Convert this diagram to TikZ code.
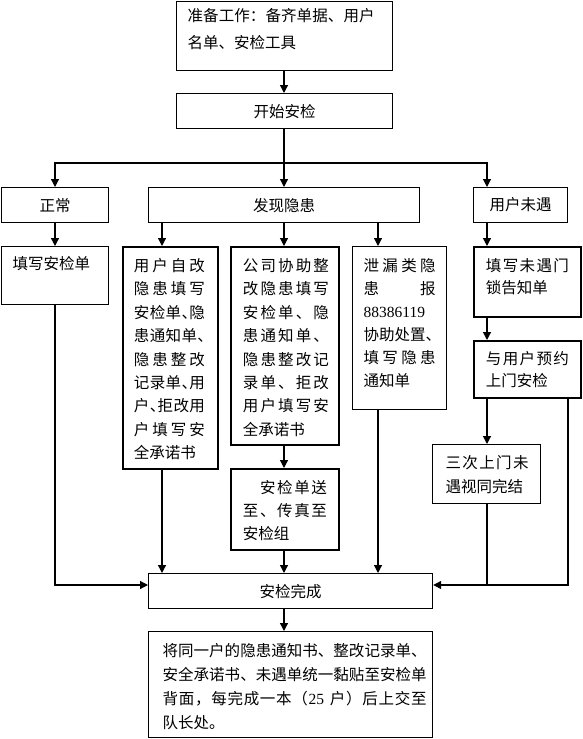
\documentclass[tikz,border=0pt]{standalone}
\usepackage{fontspec}
\setmainfont{Noto Sans CJK SC}
\newfontfamily\lat{Liberation Serif}
\usetikzlibrary{arrows.meta}
\makeatletter
\def\sprA#1{#1\sprB}
\def\sprB#1{\ifx#1\relax\else\hfil#1\expandafter\sprB\fi}
\makeatother
\newcommand\jl[2]{\makebox[#1pt][s]{\sprA#2\relax}}
\newcommand\hz{\makebox[7.5pt][l]{、}}
\newcommand\bx[6]{\parbox[c][#2pt][t]{#1pt}{\fontsize{15.5}{#5}\selectfont\vspace*{#3pt}\hspace*{#4pt}\begin{tabular}[t]{@{}l@{}}#6\end{tabular}}}
\begin{document}
\begin{tikzpicture}[x=1pt,y=-1pt,
  bx/.style={draw, line width=1.2pt, inner sep=0pt, anchor=north west},
  bxk/.style={bx, line width=1.9pt},
  arr/.style={line width=1.2pt, -{Triangle[length=8pt,width=8pt]}},
  ln/.style={line width=1.2pt},
  every node/.style={font=\fontsize{15.5}{23}\selectfont}]
\useasboundingbox (0,0) rectangle (582,739);
% boxes
\node[bx] (top) at (176,1) {\bx{216}{69}{0.6}{11}{27}{\jl{187}{准备工作：备齐单据、用户}\\名单、安检工具}};
\node[bx, minimum width=216pt, minimum height=35pt] (start) at (176,93) {开始安检};
\node[bx, minimum width=107pt, minimum height=35pt] (normal) at (1,187) {正常};
\node[bx, minimum width=271pt, minimum height=35pt] (found) at (148,187) {发现隐患};
\node[bx, minimum width=94pt, minimum height=35pt] (absent) at (473,187) {用户未遇};
\node[bx] (fill) at (1,246) {\bx{107}{58}{6.4}{11}{23}{填写安检单}};
\node[bxk] (self) at (122,246) {\bx{95}{222}{8.1}{11}{23.4}{\jl{71}{用户自改}\\\jl{71}{隐患填写}\\\jl{71}{安检单\hz 隐}\\\jl{71}{患通知单\hz}\\\jl{71}{隐患整改}\\\jl{71}{记录单\hz 用}\\\jl{71}{户\hz 拒改用}\\\jl{71}{户填写安}\\全承诺书}};
\node[bxk] (comp) at (230,246) {\bx{108}{198}{8.1}{12}{23.4}{\jl{86}{公司协助整}\\\jl{86}{改隐患填写}\\\jl{86}{安检单、隐}\\\jl{86}{患通知单、}\\\jl{86}{隐患整改记}\\\jl{86}{录单、拒改}\\\jl{86}{用户填写安}\\全承诺书}};
\node[bx] (leak) at (352,246) {\bx{94}{163}{8.4}{11}{23}{\jl{72}{泄漏类隐}\\\jl{72}{患报}\\{\lat 88386119}\\协助处置\hz\\\jl{72}{填写隐患}\\通知单}};
\node[bxk] (note) at (473,246) {\bx{107}{70}{9.1}{12}{22}{\jl{83}{填写未遇门}\\锁告知单}};
\node[bxk] (appt) at (473,340) {\bx{107}{57}{8.1}{12}{22}{\jl{83}{与用户预约}\\上门安检}};
\node[bx] (third) at (432,444) {\bx{108}{59}{7.55}{13}{23.5}{\jl{83}{三次上门未}\\遇视同完结}};
\node[bxk] (send) at (230,468) {\bx{108}{81}{8.4}{12}{23}{\jl{84}{\quad 安检单送}\\\jl{84}{至、传真至}\\安检组}};
\node[bx, minimum width=284pt, minimum height=35pt] (done) at (148,573) {安检完成};
\node[bx] (final) at (148,631) {\bx{284}{106}{7.7}{14}{24}{\jl{264}{将同一户的隐患通知书、整改记录单、}\\\jl{264}{安全承诺书、未遇单统一黏贴至安检单}\\\makebox[264pt][s]{背\hfil 面\hfil ，\hfil 每\hfil 完\hfil 成\hfil 一\hfil 本\hfil （\hfil{\lat 25}\hspace{5pt}\hfil 户\hfil ）\hfil 后\hfil 上\hfil 交\hfil 至}\\队长处。}};
% column / row guides
\coordinate (cA) at (55,0);
\coordinate (cB) at (162,0);
\coordinate (cC) at (284,0);
\coordinate (cD) at (378,0);
\coordinate (cR) at (487,0);
\coordinate (cS) at (568,0);
\coordinate (rS) at (0,163);
\coordinate (rH) at (0,585);
% connectors
\draw[arr] (cC |- top.south) -- (cC |- start.north);
\draw[ln] (cC |- start.south) -- (cC |- rS);
\draw[arr] (cC |- rS) -| (cA |- normal.north);
\draw[arr] (cC |- rS) -- (cC |- found.north);
\draw[arr] (cC |- rS) -| (cR |- absent.north);
\draw[arr] (cA |- normal.south) -- (cA |- fill.north);
\draw[arr] (cB |- found.south) -- (cB |- self.north);
\draw[arr] (cC |- found.south) -- (cC |- comp.north);
\draw[arr] (cD |- found.south) -- (cD |- leak.north);
\draw[arr] (cR |- absent.south) -- (cR |- note.north);
\draw[arr] (cR |- note.south) -- (cR |- appt.north);
\draw[arr] (cR |- appt.south) -- (cR |- third.north);
\draw[arr] (cC |- comp.south) -- (cC |- send.north);
\draw[arr] (cC |- send.south) -- (cC |- done.north);
\draw[arr] (cB |- self.south) -- (cB |- done.north);
\draw[arr] (cD |- leak.south) -- (cD |- done.north);
\draw[arr] (cA |- fill.south) |- (done.west |- rH);
\draw[arr] (cR |- third.south) |- (done.east |- rH);
\draw[ln] (cS |- appt.south) |- (cR |- rH);
\draw[arr] (cC |- done.south) -- (cC |- final.north);
\end{tikzpicture}
\end{document}
